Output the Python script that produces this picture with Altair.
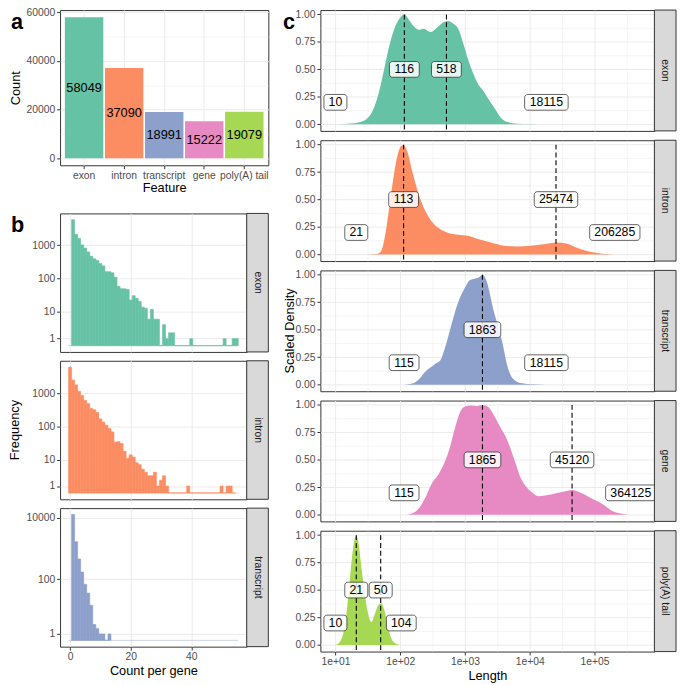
import math
import altair as alt
import pandas as pd

# ---------------- data ----------------
FEATURES = ["exon", "intron", "transcript", "gene", "poly(A) tail"]
FEATURE_COUNTS = [58049, 37090, 18991, 15222, 19079]

EXON_BINS = list(range(1, 56))
EXON_FREQ = [5780, 2130, 1600, 1020, 820, 630, 470, 394, 352, 282,
             241, 162, 162, 150, 111, 59, 50, 50, 48, 23,
             31, 26, 21, 14, 13, 6, 12, 6, 6, 0,
             4, 1, 2, 2, 0, 0, 0, 0, 0, 1,
             0, 0, 0, 0, 0, 0, 0, 0, 0, 0,
             1, 0, 0, 1, 1]
INTRON_BINS = list(range(0, 55))
INTRON_FREQ = [6150, 2500, 1790, 1140, 855, 611, 488, 349, 319, 266,
               170, 136, 109, 87, 69, 34, 35, 31, 18, 11,
               14, 12, 8, 7, 5, 4, 3, 3, 4, 1,
               2, 3, 1, 0, 0, 0, 0, 0, 0, 1,
               0, 0, 0, 0, 0, 0, 0, 0, 0, 0,
               1, 0, 1, 1, 0]
TRANSCRIPT_BINS = list(range(1, 14))
TRANSCRIPT_FREQ = [13090, 1675, 458, 172, 68, 35, 14, 3, 2, 1, 1, 0, 1]

EXON_LEN = [10, 19, 26.9, 34, 40.5, 48.2, 57.4, 68.3, 81.4, 96.9,
            116, 137.4, 163.7, 194.9, 232.1, 293, 369.9, 466.9, 556.1, 662.2,
            788.6, 939.1, 1118.5, 1331.9, 1585.9, 1888.6, 2249, 2839, 3584, 4524,
            6416, 10224, 18115]
EXON_DENS = [0, 0.01, 0.03, 0.08, 0.17, 0.32, 0.52, 0.72, 0.87, 0.96,
             1.0, 0.95, 0.89, 0.86, 0.87, 0.84, 0.88, 0.93, 0.94, 0.915,
             0.87, 0.74, 0.59, 0.47, 0.37, 0.31, 0.24, 0.15, 0.06, 0.02,
             0.006, 0.002, 0]
INTRON_LEN = [21, 42.9, 51.1, 60.8, 72.4, 86.3, 102.7, 113, 129.7, 154.5,
              183.9, 219, 276.4, 392, 556.1, 788.6, 1118.5, 1585.9, 2527, 4027,
              6416, 10224, 16290, 25960, 36810, 52230, 74050, 105000, 206285]
INTRON_DENS = [0, 0.005, 0.035, 0.23, 0.55, 0.84, 0.985, 1.0, 0.93, 0.75,
               0.59, 0.46, 0.34, 0.24, 0.196, 0.18, 0.17, 0.14, 0.11, 0.08,
               0.073, 0.08, 0.094, 0.11, 0.10, 0.064, 0.035, 0.015, 0]
TRANSCRIPT_LEN = [115, 154.5, 194.9, 246, 293, 349, 415.5, 494.9, 589.4, 701.9,
                  835.9, 995.4, 1185.6, 1411.6, 1681, 1863, 2122, 2384, 2679, 3190,
                  3799, 4524, 5388, 7212, 11487, 18115]
TRANSCRIPT_DENS = [0, 0.01, 0.05, 0.12, 0.155, 0.19, 0.22, 0.34, 0.5, 0.66,
                   0.79, 0.88, 0.95, 0.965, 0.98, 1.0, 0.955, 0.85, 0.71, 0.55,
                   0.38, 0.17, 0.06, 0.015, 0.003, 0]
GENE_LEN = [115, 154.5, 194.9, 246, 310.6, 392, 494.9, 589.4, 701.9, 835.9,
            995.4, 1256.5, 1496.2, 1865, 2249, 2839, 3584, 4268, 5083, 6054,
            7212, 8589, 10837, 13682, 17270, 23100, 32760, 45400, 58670, 78500,
            105000, 140500, 188000, 266700, 364125]
GENE_DENS = [0, 0.015, 0.06, 0.16, 0.29, 0.37, 0.49, 0.62, 0.79, 0.93,
             0.985, 0.994, 0.99, 1.0, 0.985, 0.9, 0.79, 0.71, 0.6, 0.47,
             0.34, 0.265, 0.206, 0.17, 0.176, 0.19, 0.21, 0.226, 0.206, 0.17,
             0.13, 0.09, 0.035, 0.01, 0]
POLYA_LEN = [10, 11.9, 14.2, 15.9, 17.9, 19.7, 21, 22.6, 25.4, 28.5,
             32.1, 36, 40.5, 45.5, 51.1, 57.4, 64.5, 72.4, 86.3, 104]
POLYA_DENS = [0, 0.035, 0.2, 0.46, 0.78, 0.96, 1.0, 0.94, 0.69, 0.46,
              0.28, 0.21, 0.28, 0.36, 0.38, 0.31, 0.17, 0.064, 0.012, 0]

EXON_MARKS = [10, 116, 518, 18115]
EXON_KINDS = ["range", "mode", "mode", "range"]
INTRON_MARKS = [21, 113, 25474, 206285]
INTRON_KINDS = ["range", "mode", "mode", "range"]
TRANSCRIPT_MARKS = [115, 1863, 18115]
TRANSCRIPT_KINDS = ["range", "mode", "range"]
GENE_MARKS = [115, 1865, 45120, 364125]
GENE_KINDS = ["range", "mode", "mode", "range"]
POLYA_MARKS = [10, 21, 50, 104]
POLYA_KINDS = ["range", "mode", "mode", "range"]

# ---------------- style ----------------
SET2 = ["#66C2A5", "#FC8D62", "#8DA0CB", "#E78AC3", "#A6D854"]
FONT = "Liberation Sans"
INK = "#333333"
GRID = "#EBEBEB"
LABEL = "#4D4D4D"

A_W, A_H = 212, 158
B_W, B_H = 190, 141
C_W, C_H = 340, 123
STRIP = 22


def cnd(test, yes, no):
    return {"condition": {"test": test, "value": yes}, "value": no}


def letter(ch, x, y):
    return alt.Chart(pd.DataFrame({"t": [ch]})).mark_text(
        font=FONT, fontSize=22, fontWeight="bold", align="left",
        baseline="top", color="black"
    ).encode(x=alt.value(x), y=alt.value(y), text="t:N")


def vtitle(text, x, h):
    return alt.Chart(pd.DataFrame({"t": [text]})).mark_text(
        font=FONT, fontSize=13, angle=270, align="center", baseline="middle",
        color="black"
    ).encode(x=alt.value(x), y=alt.value(h / 2), text="t:N")


def strip_layers(label, w, h):
    d = pd.DataFrame({"s": [label]})
    r = alt.Chart(d).mark_rect(fill="#D9D9D9", stroke=INK, strokeWidth=1).encode(
        x=alt.value(w), x2=alt.value(w + STRIP), y=alt.value(0), y2=alt.value(h))
    t = alt.Chart(d).mark_text(font=FONT, fontSize=10.5, angle=90, align="center",
                               baseline="middle", color="#1A1A1A").encode(
        x=alt.value(w + STRIP / 2), y=alt.value(h / 2), text="s:N")
    return [r, t]


# ---------------- panel a ----------------
dfa = pd.DataFrame({"feature": FEATURES, "count": FEATURE_COUNTS})
amax = max(FEATURE_COUNTS)
a_ys = alt.Scale(domain=[-0.05 * amax, 1.05 * amax], nice=False, zero=False)
A_MINOR = "datum.value % 20000 != 0"
a_yax = alt.Axis(values=[0, 10000, 20000, 30000, 40000, 50000, 60000], title="Count",
                 titlePadding=4,
                 labelExpr="datum.value % 20000 != 0 ? '' : format(datum.value, 'd')",
                 gridWidth=cnd(A_MINOR, 0.5, 1), tickOpacity=cnd(A_MINOR, 0, 1))
a_xs = alt.Scale(domain=FEATURES, paddingInner=0.04, paddingOuter=0.12)
a_xax = alt.Axis(title="Feature", labelAngle=0, grid=True, bandPosition=0.5,
                 titlePadding=1, gridWidth=1)
ax = alt.X("feature:N", scale=a_xs, axis=a_xax)

bars_a = alt.Chart(dfa).mark_bar().encode(
    x=ax, y=alt.Y("count:Q", scale=a_ys, axis=a_yax), y2=alt.datum(0),
    color=alt.Color("feature:N", scale=alt.Scale(domain=FEATURES, range=SET2), legend=None))
text_a = alt.Chart(dfa).transform_calculate(half="datum.count / 2").mark_text(
    font=FONT, fontSize=13, color="black", baseline="middle").encode(
    x=ax, y=alt.Y("half:Q", scale=a_ys, axis=a_yax), text=alt.Text("count:Q", format="d"))
spacer = alt.Chart(pd.DataFrame({"k": [0]})).mark_rule(color="white", strokeWidth=1).encode(
    x=alt.value(0), x2=alt.value(4), y=alt.value(A_H + 40))
chart_a = alt.layer(bars_a, text_a, letter("a", -50, 2), spacer).properties(width=A_W, height=A_H)


# ---------------- panel b ----------------
def ptrans(v):
    return math.asinh(v / 2) / math.log(10)


PT_EXPR = "log(datum.n / 2 + sqrt(datum.n * datum.n / 4 + 1)) / LN10"
all_bins = EXON_BINS + INTRON_BINS + TRANSCRIPT_BINS
blo, bhi = min(all_bins) - 0.5, max(all_bins) + 0.5
bspan = bhi - blo
b_xs = alt.Scale(domain=[blo - 0.05 * bspan, bhi + 0.05 * bspan], nice=False, zero=False)
B_XMINOR = "datum.value % 20 != 0"
B_YMINOR = "datum.value > 0.3 && abs(datum.value - round(datum.value)) > 0.05"


def b_panel(label, bins, freq, color, majors, bottom, extra):
    tmax = ptrans(max(freq))
    ys = alt.Scale(domain=[-0.05 * tmax, 1.05 * tmax], nice=False, zero=False)
    tv = [ptrans(v) for v in majors]
    minors = [(p + q) / 2 for p, q in zip(tv[:-1], tv[1:])]
    nxt = tv[-1] + (tv[-1] - tv[-2]) / 2
    if nxt < 1.05 * tmax:
        minors.append(nxt)
    yax = alt.Axis(values=tv + minors, title=None,
                   labelExpr="datum.value < 0.3 ? '1' : (abs(datum.value - round(datum.value)) < 0.05 ? format(pow(10, round(datum.value)), 'd') : '')",
                   gridWidth=cnd(B_YMINOR, 0.5, 1), tickOpacity=cnd(B_YMINOR, 0, 1))
    xvals = [0, 10, 20, 30, 40, 50]
    if bottom:
        xax = alt.Axis(values=xvals, title="Count per gene", titlePadding=2.5,
                       labelExpr="datum.value % 20 != 0 ? '' : '' + datum.value",
                       gridWidth=cnd(B_XMINOR, 0.5, 1), tickOpacity=cnd(B_XMINOR, 0, 1))
    else:
        xax = alt.Axis(values=xvals, title=None, labels=False, ticks=False,
                       gridWidth=cnd(B_XMINOR, 0.5, 1))
    df = pd.DataFrame({"bin": bins, "n": freq})
    bars = alt.Chart(df).transform_calculate(
        t=PT_EXPR, lo="datum.bin - 0.5", hi="datum.bin + 0.5"
    ).mark_rect(fill=color, stroke=color, strokeWidth=0.6).encode(
        x=alt.X("lo:Q", scale=b_xs, axis=xax), x2="hi:Q",
        y=alt.Y("t:Q", scale=ys, axis=yax), y2=alt.datum(0))
    base = alt.Chart(pd.DataFrame({"k": [0]})).mark_rule(
        color=color, strokeWidth=0.6, opacity=0.8).encode(
        x=alt.datum(blo), x2=alt.datum(bhi), y=alt.datum(0))
    layers = [bars, base] + strip_layers(label, B_W, B_H) + extra
    return alt.layer(*layers).properties(width=B_W, height=B_H)


b1 = b_panel("exon", EXON_BINS, EXON_FREQ, SET2[0], [1, 10, 100, 1000], False,
             [letter("b", -50, 2)])
b2 = b_panel("intron", INTRON_BINS, INTRON_FREQ, SET2[1], [1, 10, 100, 1000], False,
             [vtitle("Frequency", -46, B_H)])
b3 = b_panel("transcript", TRANSCRIPT_BINS, TRANSCRIPT_FREQ, SET2[2],
             [1, 10, 100, 1000, 10000], True, [])

# ---------------- panel c ----------------
XMIN, XMAX = 10 ** 0.768, 10 ** 5.926
YMIN, YMAX = -0.06, 1.04
PXDEC = C_W / math.log10(XMAX / XMIN)
PXY = C_H / (YMAX - YMIN)
DIGIT_W, BOX_PAD, BOX_HH = 6.95, 9.5, 8.0
C_XMINOR = "abs(log(datum.value) / LN10 - round(log(datum.value) / LN10)) > 0.1"
C_YMINOR = "(datum.value * 8) % 2 == 1"
c_xvals = [10 ** k for k in range(1, 6)] + [10 ** (k + 0.5) for k in range(1, 6)]
c_yvals = [0, 0.125, 0.25, 0.375, 0.5, 0.625, 0.75, 0.875, 1.0]


def c_panel(label, lens, dens, marks, kinds, color, bottom, extra):
    xs = alt.Scale(type="log", domain=[XMIN, XMAX], nice=False)
    ys = alt.Scale(domain=[YMIN, YMAX], nice=False, zero=False)
    yax = alt.Axis(values=c_yvals, title=None,
                   labelExpr="(datum.value * 8) % 2 == 1 ? '' : format(datum.value, '.2f')",
                   gridWidth=cnd(C_YMINOR, 0.5, 1), tickOpacity=cnd(C_YMINOR, 0, 1))
    if bottom:
        xax = alt.Axis(values=c_xvals, title="Length", titlePadding=2.5,
                       labelExpr="abs(log(datum.value) / LN10 - round(log(datum.value) / LN10)) > 0.1 ? '' : '1e+0' + round(log(datum.value) / LN10)",
                       gridWidth=cnd(C_XMINOR, 0.5, 1), tickOpacity=cnd(C_XMINOR, 0, 1))
    else:
        xax = alt.Axis(values=c_xvals, title=None, labels=False, ticks=False,
                       gridWidth=cnd(C_XMINOR, 0.5, 1))
    dd = pd.DataFrame({"len": lens, "dens": dens})
    area = alt.Chart(dd).mark_area(color=color, interpolate="monotone").encode(
        x=alt.X("len:Q", scale=xs, axis=xax),
        y=alt.Y("dens:Q", scale=ys, axis=yax), y2=alt.datum(0))
    ld = pd.DataFrame({"pos": marks, "kind": kinds, "label": [str(m) for m in marks]})
    ld["ly"] = ld["kind"].map({"mode": 0.5, "range": 0.2})
    rules = alt.Chart(ld).transform_filter("datum.kind == 'mode'").mark_rule(
        color="black", strokeDash=[5, 3], strokeWidth=1.1).encode(
        x=alt.X("pos:Q", scale=xs, axis=xax),
        y=alt.Y(datum=1.0, scale=ys, axis=yax), y2=alt.datum(YMIN))
    box = alt.Chart(ld).transform_calculate(
        hw=f"(length(datum.label) * {DIGIT_W} + {BOX_PAD}) / 2",
    ).transform_calculate(
        bx1=f"datum.pos * pow(10, -datum.hw / {PXDEC})",
        bx2=f"datum.pos * pow(10, datum.hw / {PXDEC})",
        by1=f"datum.ly - {BOX_HH / PXY}",
        by2=f"datum.ly + {BOX_HH / PXY}",
    ).mark_rect(fill="white", fillOpacity=0.85, stroke="#222222", strokeWidth=0.7,
                cornerRadius=3).encode(
        x=alt.X("bx1:Q", scale=xs, axis=xax), x2="bx2:Q",
        y=alt.Y("by1:Q", scale=ys, axis=yax), y2="by2:Q")
    txt = alt.Chart(ld).mark_text(font=FONT, fontSize=12.5, color="black",
                                  baseline="middle", align="center").encode(
        x=alt.X("pos:Q", scale=xs, axis=xax),
        y=alt.Y("ly:Q", scale=ys, axis=yax), text="label:N")
    layers = [area, rules, box, txt] + strip_layers(label, C_W, C_H) + extra
    return alt.layer(*layers).properties(width=C_W, height=C_H)


c1 = c_panel("exon", EXON_LEN, EXON_DENS, EXON_MARKS, EXON_KINDS, SET2[0], False,
             [letter("c", -38, 2)])
c2 = c_panel("intron", INTRON_LEN, INTRON_DENS, INTRON_MARKS, INTRON_KINDS, SET2[1], False, [])
c3 = c_panel("transcript", TRANSCRIPT_LEN, TRANSCRIPT_DENS, TRANSCRIPT_MARKS, TRANSCRIPT_KINDS,
             SET2[2], False, [vtitle("Scaled Density", -31, C_H)])
c4 = c_panel("gene", GENE_LEN, GENE_DENS, GENE_MARKS, GENE_KINDS, SET2[3], False, [])
c5 = c_panel("poly(A) tail", POLYA_LEN, POLYA_DENS, POLYA_MARKS, POLYA_KINDS, SET2[4], True, [])

left = alt.vconcat(chart_a, b1, b2, b3, spacing=7)
right = alt.vconcat(c1, c2, c3, c4, c5, spacing=5.5)
chart = alt.hconcat(left, right, spacing=13).properties(
    padding={"left": 0, "top": -8, "right": 0, "bottom": 0}, background="white")
chart = chart.configure_axis(
    domain=False, labelFont=FONT, labelFontSize=10.5, labelColor=LABEL, labelPadding=2,
    labelFlush=False, labelOverlap=False, tickColor=INK, tickSize=3.5, tickWidth=1,
    titleFont=FONT, titleFontSize=13, titleColor="black", titleFontWeight="normal",
    gridColor=GRID
).configure_view(stroke=INK, strokeWidth=1)

chart.save("out.html", embed_options={"renderer": "svg", "actions": False})
